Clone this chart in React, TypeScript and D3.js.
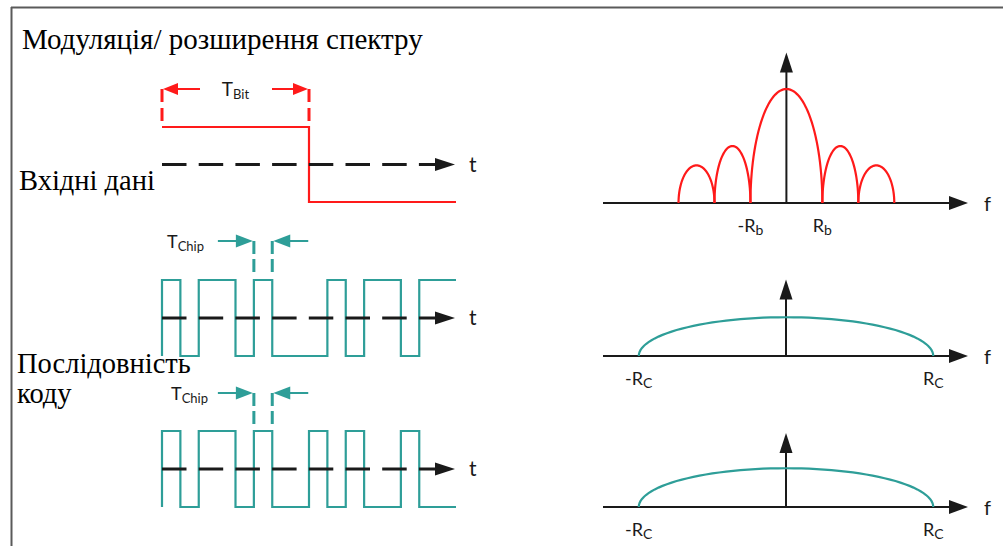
import React from 'react';
import * as d3 from 'd3';

// ---- data ----
const dataBits = [1, 0]; // input data bits (each bit = 8 chips)
const chipSeqA = [1, 0, 1, 1, 0, 1, 0, 0, 0, 1, 0, 1, 1, 0, 1, 1];
const chipSeqB = [1, 0, 1, 1, 0, 1, 0, 0, 1, 0, 1, 0, 0, 1, 0, 0];
const chipsPerBit = 8;

// spectrum lobes (zeros in units of R, relative peak heights)
const bitLobeFrom = [-3, -2, -1, 1, 2];
const bitLobeTo = [-2, -1, 1, 2, 3];
const bitLobePeak = [0.33, 0.5, 1, 0.5, 0.33];
const chipLobeFrom = [-1];
const chipLobeTo = [1];
const chipLobePeak = [0.34];

const bitTickValues = [-1, 1];
const bitTickLabels = ['-R', 'R'];
const bitTickSubs = ['b', 'b'];
const chipTickValues = [-1, 1];
const chipTickLabels = ['-R', 'R'];
const chipTickSubs = ['C', 'C'];

const title = 'Модуляція/ розширення спектру';
const labelInput = 'Вхідні дані';
const labelCode1 = 'Послідовність';
const labelCode2 = 'коду';

// ---- styles ----
const RED = '#ff1a1a';
const TEAL = '#2e9e98';
const INK = '#1a1a1a';
const SANS = 'Lato, "Open Sans", sans-serif';
const serifStyle = { fontFamily: "'Liberation Serif', 'Times New Roman', Tinos, 'DejaVu Serif', 'Noto Serif', serif" };

function stepPath(seq: number[], unit: number, xs: any, ys: any, leadIn: boolean) {
  const pts: [number, number][] = [];
  if (leadIn) pts.push([xs(0), ys(1 - seq[0])]);
  seq.forEach((v, i) => {
    pts.push([xs(i * unit), ys(v)]);
    pts.push([xs((i + 1) * unit), ys(v)]);
  });
  return d3.line()(pts) as string;
}

function arrowHead(tx: number, ty: number, dir: 'r' | 'l' | 'u', len: number, half: number) {
  if (dir === 'r') return `${tx},${ty} ${tx - len},${ty - half} ${tx - len},${ty + half}`;
  if (dir === 'l') return `${tx},${ty} ${tx + len},${ty - half} ${tx + len},${ty + half}`;
  return `${tx},${ty} ${tx - half},${ty + len} ${tx + half},${ty + len}`;
}

function lobePath(from: number, to: number, peak: number, xs: any, ys: any) {
  const mid = (from + to) / 2;
  const half = (to - from) / 2;
  const pts: [number, number][] = d3.range(0, 61).map((k) => {
    const t = (Math.PI * k) / 60;
    return [xs(mid - Math.cos(t) * half), ys(peak * Math.sin(t))];
  });
  return d3.line()(pts) as string;
}

const TimePanel = ({ seq, unit, ys, color, leadIn }: any) => {
  const xs = d3.scaleLinear().domain([0, 16]).range([162, 456]);
  const axisY = ys(0.5);
  const tip = xs(16) - 1;
  return (
    <g>
      <path d={stepPath(seq, unit, xs, ys, leadIn)} fill="none" stroke={color} strokeWidth={2.2} />
      <line x1={xs(0)} x2={tip - 18} y1={axisY} y2={axisY} stroke={INK} strokeWidth={3.2} strokeDasharray="24.5 12.2" />
      <polygon points={arrowHead(tip, axisY, 'r', 20, 6.5)} fill={INK} />
      <text x={tip + 14} y={axisY + 7} fontFamily={SANS} fontSize={21} fill={INK}>t</text>
    </g>
  );
};

const SpecPanel = ({ domain, axisY, from, to, peak, color, tickValues, tickLabels, tickSubs, yTop }: any) => {
  const xs = d3.scaleLinear().domain(domain).range([603, 968]);
  const ys = d3.scaleLinear().domain([0, 1]).range([axisY, axisY - 114]);
  const x0 = xs(0);
  return (
    <g>
      <line x1={xs(domain[0])} x2={xs(domain[1]) - 16} y1={axisY} y2={axisY} stroke={INK} strokeWidth={2} />
      <polygon points={arrowHead(xs(domain[1]), axisY, 'r', 19, 7)} fill={INK} />
      <line x1={x0} x2={x0} y1={axisY} y2={ys(yTop) + 16} stroke={INK} strokeWidth={2} />
      <polygon points={arrowHead(x0, ys(yTop), 'u', 20, 6.5)} fill={INK} />
      {from.map((f: number, i: number) => (
        <path key={i} d={lobePath(f, to[i], peak[i], xs, ys)} fill="none" stroke={color} strokeWidth={2.2} />
      ))}
      {tickValues.map((v: number, i: number) => (
        <text key={i} x={xs(v)} y={axisY + 29} textAnchor="middle" fontFamily={SANS} fontSize={18} fill={INK}>
          {tickLabels[i]}
          <tspan fontSize={14} dy={3}>{tickSubs[i]}</tspan>
        </text>
      ))}
      <text x={xs(domain[1]) + 16} y={axisY + 8} fontFamily={SANS} fontSize={20} fill={INK}>f</text>
    </g>
  );
};

const ChipMarker = ({ xs, y, color }: any) => {
  const a = xs(5);
  const b = xs(6);
  return (
    <g>
      <line x1={a} x2={a} y1={y} y2={y + 31} stroke={color} strokeWidth={3} strokeDasharray="13 5" />
      <line x1={b} x2={b} y1={y} y2={y + 31} stroke={color} strokeWidth={3} strokeDasharray="13 5" />
      <line x1={a - 36} x2={a - 14} y1={y} y2={y} stroke={color} strokeWidth={2} />
      <polygon points={arrowHead(a - 1, y, 'r', 17, 6.5)} fill={color} />
      <line x1={b + 36} x2={b + 14} y1={y} y2={y} stroke={color} strokeWidth={2} />
      <polygon points={arrowHead(b + 1, y, 'l', 17, 6.5)} fill={color} />
    </g>
  );
};

export default function App() {
  const xs = d3.scaleLinear().domain([0, 16]).range([162, 456]);
  const yRed = d3.scaleLinear().domain([0, 1]).range([202, 127]);
  const yA = d3.scaleLinear().domain([0, 1]).range([356, 280]);
  const yB = d3.scaleLinear().domain([0, 1]).range([507, 431]);

  const bitA = xs(0);
  const bitB = xs(chipsPerBit);
  const markY = 89;

  return (
    <svg width={1003} height={546} style={{ position: 'absolute', left: 0, top: 0, background: '#fff' }}>
      <rect x={0} y={0} width={1003} height={546} fill="#fff" />
      {/* frame */}
      <line x1={11} x2={1003} y1={7.5} y2={7.5} stroke="#5a5a5a" strokeWidth={2} />
      <line x1={11.5} x2={11.5} y1={7} y2={546} stroke="#5a5a5a" strokeWidth={2} />

      <text x={22} y={49} style={serifStyle} fontSize={29} fill="#000">{title}</text>
      <text x={19} y={190} style={serifStyle} fontSize={28.5} fill="#000">{labelInput}</text>
      <text x={17} y={373} style={serifStyle} fontSize={28.5} fill="#000">{labelCode1}</text>
      <text x={17} y={403} style={serifStyle} fontSize={28.5} fill="#000">{labelCode2}</text>

      {/* input data */}
      <TimePanel seq={dataBits} unit={chipsPerBit} ys={yRed} color={RED} leadIn={false} />
      <line x1={bitA} x2={bitA} y1={markY} y2={121} stroke={RED} strokeWidth={3} strokeDasharray="13 6" />
      <line x1={bitB} x2={bitB} y1={markY} y2={121} stroke={RED} strokeWidth={3} strokeDasharray="13 6" />
      <polygon points={arrowHead(bitA + 1, markY, 'l', 15, 6)} fill={RED} />
      <line x1={bitA + 14} x2={bitA + 38} y1={markY} y2={markY} stroke={RED} strokeWidth={2} />
      <polygon points={arrowHead(bitB - 1, markY, 'r', 15, 6)} fill={RED} />
      <line x1={bitB - 14} x2={bitB - 37} y1={markY} y2={markY} stroke={RED} strokeWidth={2} />
      <text x={(bitA + bitB) / 2} y={96} textAnchor="middle" fontFamily={SANS} fontSize={19} fill={INK}>
        T<tspan fontSize={13} dy={3}>Bit</tspan>
      </text>

      {/* chip sequence A */}
      <TimePanel seq={chipSeqA} unit={1} ys={yA} color={TEAL} leadIn={true} />
      <ChipMarker xs={xs} y={241} color={TEAL} />
      <text x={167} y={248} fontFamily={SANS} fontSize={18} fill={INK}>
        T<tspan fontSize={13} dy={3}>Chip</tspan>
      </text>

      {/* chip sequence B */}
      <TimePanel seq={chipSeqB} unit={1} ys={yB} color={TEAL} leadIn={true} />
      <ChipMarker xs={xs} y={393} color={TEAL} />
      <text x={171} y={400} fontFamily={SANS} fontSize={18} fill={INK}>
        T<tspan fontSize={13} dy={3}>Chip</tspan>
      </text>

      {/* spectra */}
      <SpecPanel domain={[-5.1, 5.05]} axisY={203} from={bitLobeFrom} to={bitLobeTo} peak={bitLobePeak}
        color={RED} tickValues={bitTickValues} tickLabels={bitTickLabels} tickSubs={bitTickSubs} yTop={1.32} />
      <SpecPanel domain={[-1.243, 1.236]} axisY={356} from={chipLobeFrom} to={chipLobeTo} peak={chipLobePeak}
        color={TEAL} tickValues={chipTickValues} tickLabels={chipTickLabels} tickSubs={chipTickSubs} yTop={0.67} />
      <SpecPanel domain={[-1.243, 1.236]} axisY={507} from={chipLobeFrom} to={chipLobeTo} peak={chipLobePeak}
        color={TEAL} tickValues={chipTickValues} tickLabels={chipTickLabels} tickSubs={chipTickSubs} yTop={0.65} />
    </svg>
  );
}
